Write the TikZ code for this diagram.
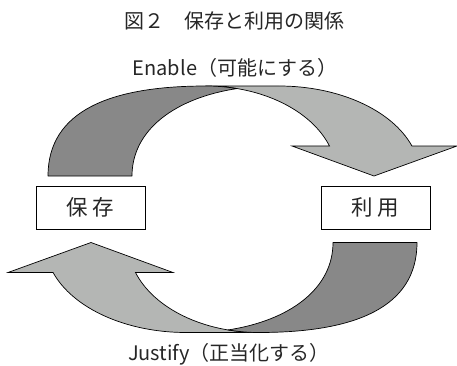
\documentclass[tikz,border=0pt]{standalone}
\usepackage{fontspec}
\setmainfont{Noto Sans CJK JP}
\definecolor{arrowdark}{RGB}{136,136,136}
\definecolor{arrowlight}{RGB}{180,182,180}
\begin{document}
\begin{tikzpicture}[x=1pt,y=-1pt,
  darkpart/.style={fill=arrowdark, draw=black, line width=0.7pt, line join=round},
  lightpart/.style={fill=arrowlight, draw=black, line width=0.7pt, line join=miter},
  stagebox/.style={draw=black, line width=0.8pt, fill=white, minimum width=109pt,
    minimum height=43pt, inner sep=0pt, font=\fontsize{21.5}{24}\selectfont, text=black!85},
  caption/.style={anchor=base, inner sep=0pt, font=\fontsize{20}{24}\selectfont, text=black!85}
]
\useasboundingbox (0,0) rectangle (457,366);

\newcommand\curvedarrowshape{%
  \path[lightpart] (206,86) -- (279,86)
    arc[start angle=-90, end angle=-19.47, x radius=141, y radius=90]
    -- (457,146) -- (374,176) -- (292,146) -- (329.5,146)
    arc[start angle=-19.47, end angle=-90, x radius=131, y radius=90] -- cycle;
  \path[darkpart] (48,176) .. controls (48,111) and (110,86) .. (206,86)
    arc[start angle=-90, end angle=-76.3, x radius=131, y radius=90]
    .. controls (175,98) and (132,130) .. (132,176) -- cycle;
}

% top arrow (Enable)
\begin{scope}
  \curvedarrowshape
\end{scope}
% bottom arrow (Justify), rotated 180 degrees
\begin{scope}[shift={(465,418.5)}, xscale=-1, yscale=-1]
  \curvedarrowshape
\end{scope}

\node[caption] (title) at (234,29) {図２　保存と利用の関係};
\node[caption] (enable) at (235,76) {Enable（可能にする）};
\node[caption] (justify) at (229,360.5) {Justify（正当化する）};

\node[stagebox] (hozon) at (90.5,207.5) {保 存};
\node[stagebox] (riyou) at (375.5,207.5) {利 用};
\end{tikzpicture}
\end{document}
